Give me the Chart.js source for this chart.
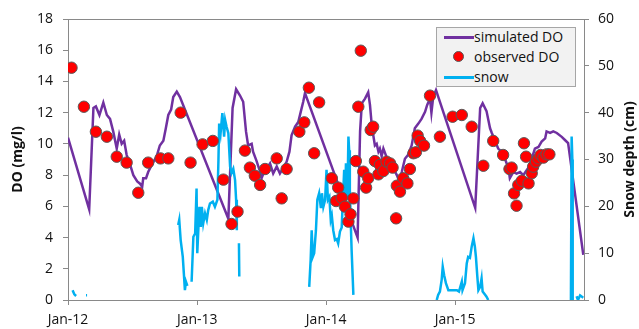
<!DOCTYPE html>
<html><head><meta charset="utf-8">
<script src="https://cdn.jsdelivr.net/npm/chart.js@4.4.0/dist/chart.umd.min.js"></script>
<style>
html,body{margin:0;padding:0;background:#fff;}
#wrap{position:relative;width:639px;height:329px;overflow:hidden;}
#c{position:absolute;left:0;top:0;}
#legend{position:absolute;left:436px;top:27px;width:140px;height:60px;background:#f2f2f2;border:1px solid #a6a6a6;box-sizing:border-box;font-family:'Open Sans',sans-serif;font-size:14px;color:#111;}
.row{position:absolute;left:37px;height:20px;line-height:20px;white-space:nowrap;}
.ln{position:absolute;left:7px;width:30px;height:3px;}
.dot{position:absolute;left:16px;width:11px;height:11px;border-radius:50%;background:#ff0000;border:1px solid #595959;box-sizing:border-box;}
</style></head>
<body>
<div id="wrap">
<canvas id="c" width="639" height="329"></canvas>
<div id="legend">
  <div class="ln" style="top:8px;background:#7030a0"></div><div class="row" style="top:-1px">simulated DO</div>
  <div class="dot" style="top:23px"></div><div class="row" style="top:19px">observed DO</div>
  <div class="ln" style="top:48px;background:#00b0f0"></div><div class="row" style="top:39px">snow</div>
</div>
</div>
<script>
// x values are days since 1 Jan 2012
const tickDays = [0, 366, 731, 1096];
const tickLabels = ['Jan-12', 'Jan-13', 'Jan-14', 'Jan-15'];

const simDays = [0,60,72,79,89,100,110,119,128,138,145,152,159,166,176,185,196,204,210,213,221,227,237,251,260,270,277,284,292,298,308,317,454,466,476,487,496,504,510,520,524,534,544,548,555,563,572,581,591,600,610,619,627,633,643,652,659,666,671,820,827,832,841,850,855,860,864,869,874,879,883,888,893,902,912,921,931,938,945,954,963,973,982,992,1001,1011,1017,1025,1029,1034,1042,1153,1167,1174,1185,1195,1200,1209,1218,1228,1237,1247,1251,1261,1270,1280,1289,1303,1313,1322,1332,1341,1351,1355,1365,1374,1384,1398,1407,1416,1459];
const simDO = [10.4,5.8,12.3,12.4,11.85,12.65,11.85,11.6,10.8,9.7,10.6,10.0,10.2,9.3,8.65,8.0,7.6,7.45,7.25,7.8,7.8,8.2,8.65,9.2,9.9,10.2,11.0,11.85,12.2,13.0,13.35,13.0,5.2,12.3,13.5,13.1,12.7,10.8,9.9,10.0,9.5,8.9,8.2,7.8,8.2,8.45,8.75,8.1,8.55,8.1,8.5,8.85,9.5,10.55,11.1,11.4,12.05,12.7,13.25,4.0,10.8,12.6,12.9,13.3,12.5,11.2,10.6,9.9,10.0,9.5,9.7,9.2,9.7,9.15,8.85,8.45,8.0,7.6,8.2,9.05,9.3,9.9,11.0,11.3,11.6,12.05,12.5,12.9,12.0,13.0,13.45,5.9,12.3,12.6,12.1,11.0,10.7,10.2,9.7,9.5,9.05,8.45,7.8,8.2,8.1,8.2,8.0,8.45,9.05,9.7,9.8,10.15,10.35,10.8,10.7,10.8,10.7,10.45,10.25,10.05,2.9];

const obsDays = [10,45,79,110,138,166,199,227,262,284,319,347,381,410,440,463,480,501,515,529,544,558,591,605,619,655,669,682,697,711,747,759,765,775,784,794,800,808,815,822,829,836,844,850,857,864,869,879,883,893,902,912,919,929,931,940,949,961,968,978,985,990,997,1008,1025,1053,1089,1115,1143,1176,1204,1232,1250,1256,1263,1270,1275,1285,1291,1297,1304,1313,1317,1325,1332,1338,1346,1355,1363];
const obsDO = [14.88,12.38,10.78,10.46,9.18,8.8,6.87,8.8,9.07,9.07,12.0,8.8,9.97,10.19,7.71,4.87,5.66,9.57,8.48,7.96,7.37,8.39,9.07,6.51,8.39,10.78,11.38,13.6,9.4,12.66,7.8,6.34,7.2,6.55,5.98,5.02,5.49,6.51,8.9,12.38,15.97,8.22,7.2,7.8,10.89,11.1,8.9,8.05,8.65,8.26,8.86,8.75,8.48,5.23,7.32,6.94,7.8,7.47,8.39,9.4,9.46,10.53,10.19,9.89,13.09,10.46,11.74,11.85,11.1,8.6,10.19,9.29,8.39,8.48,6.83,6.04,7.37,7.64,10.04,9.18,7.47,8.12,8.54,8.86,9.07,9.29,9.12,9.33,9.33];

const snowDays = [13,18,23,30,51,54,60,312,315,319,325,328,331,334,338,340,350,355,360,364,366,372,376,379,383,388,393,397,402,410,416,423,426,428,432,437,442,445,449,454,459,463,468,473,476,478,481,484,485,490,683,687,690,693,697,702,706,711,716,719,723,728,732,736,740,744,747,751,756,761,765,770,775,777,782,784,787,791,794,796,798,801,803,806,808,812,1044,1048,1053,1058,1061,1065,1070,1077,1087,1101,1107,1115,1117,1124,1129,1133,1138,1143,1148,1152,1155,1159,1162,1167,1171,1174,1181,1185,1190,1195,1422,1424,1426,1428,1429,1431,1440,1444,1450,1459];
const snowCm = [2.1,1.2,0.85,null,1.0,1.0,null,16.0,17.1,12.8,9.2,5.7,2.1,3.9,3.0,null,3.9,13.5,14.2,23.8,10.0,19.9,15.6,19.9,16.4,18.5,17.1,19.2,20.6,21.0,19.9,21.4,29.9,37.7,35.6,39.9,34.9,38.4,37.0,35.6,28.5,27.1,28.0,25.6,21.4,14.9,null,12.1,5.0,null,2.8,8.5,14.9,9.2,10.0,14.9,21.4,22.8,19.6,22.8,19.9,21.4,27.8,21.4,22.0,17.1,18.0,14.9,12.8,13.0,12.1,14.6,15.5,19.2,27.8,20.0,29.2,21.4,34.9,32.0,23.5,15.6,10.7,5.0,1.1,null,0,1.1,1.8,4.3,7.1,5.3,3.6,2.1,2.1,2.1,1.8,3.9,2.1,3.6,7.8,9.2,9.0,11.4,13.2,11.4,9.2,5.0,2.1,2.8,4.6,1.8,1.1,0.7,0,null,0,0.5,34.9,30.0,0,null,0.8,0,1.0,0.5];

const zip = (xs, ys) => xs.map((x, i) => ({x: x, y: ys[i]}));
const FONT = "'Open Sans', sans-serif";
const AX = '#898989';

const framePlugin = {
  id: 'frame',
  afterDraw(chart) {
    const {ctx, chartArea: a} = chart;
    ctx.save();
    ctx.strokeStyle = AX; ctx.lineWidth = 1;
    ctx.beginPath(); ctx.moveTo(a.left, a.top + 0.5); ctx.lineTo(a.right, a.top + 0.5); ctx.stroke();
    ctx.translate(630, (a.top + a.bottom) / 2);
    ctx.rotate(-Math.PI / 2);
    ctx.font = "bold 14px " + FONT;
    ctx.fillStyle = '#111'; ctx.textAlign = 'center'; ctx.textBaseline = 'middle';
    ctx.fillText('Snow depth (cm)', 0, 0);
    ctx.restore();
  }
};

new Chart(document.getElementById('c'), {
  type: 'scatter',
  data: {
    datasets: [
      {label: 'observed DO', data: zip(obsDays, obsDO), yAxisID: 'y', order: 0,
       pointRadius: 5.7, pointBackgroundColor: '#ff0000', pointBorderColor: '#595959', pointBorderWidth: 1, showLine: false},
      {label: 'snow', data: zip(snowDays, snowCm), yAxisID: 'y2', order: 1, showLine: true, spanGaps: false,
       borderColor: '#00b0f0', borderWidth: 2.5, pointRadius: 0, tension: 0},
      {label: 'simulated DO', data: zip(simDays, simDO), yAxisID: 'y', order: 2, showLine: true,
       borderColor: '#7030a0', borderWidth: 2.5, pointRadius: 0, tension: 0}
    ]
  },
  options: {
    responsive: false, animation: false, devicePixelRatio: 1,
    layout: {padding: {top: 19, left: 0, right: 0, bottom: 0}},
    plugins: {legend: {display: false}, tooltip: {enabled: false}},
    scales: {
      x: {type: 'linear', position: 'bottom', min: 0, max: 1461,
        afterBuildTicks: s => { s.ticks = tickDays.map(v => ({value: v})); },
        afterFit: s => { s.height = 29; },
        ticks: {callback: v => tickLabels[tickDays.indexOf(v)], font: {family: FONT, size: 14}, color: '#111', padding: 7, maxRotation: 0, autoSkip: false},
        grid: {drawOnChartArea: false, drawTicks: true, tickLength: 5, color: AX},
        border: {color: AX}},
      y: {position: 'left', min: 0, max: 18,
        afterFit: s => { s.width = 68; },
        ticks: {stepSize: 2, font: {family: FONT, size: 14}, color: '#111', padding: 10},
        grid: {drawOnChartArea: false, drawTicks: true, tickLength: 5, color: AX},
        border: {color: AX},
        title: {display: true, text: 'DO (mg/l)', font: {family: FONT, size: 14, weight: 'bold'}, color: '#111', padding: {top: 10, bottom: 0}}},
      y2: {position: 'right', min: 0, max: 60,
        afterFit: s => { s.width = 55; },
        ticks: {stepSize: 10, font: {family: FONT, size: 14}, color: '#111', padding: 9},
        grid: {drawOnChartArea: false, drawTicks: true, tickLength: 5, color: AX},
        border: {color: AX}}
    }
  },
  plugins: [framePlugin]
});
</script>
</body></html>
